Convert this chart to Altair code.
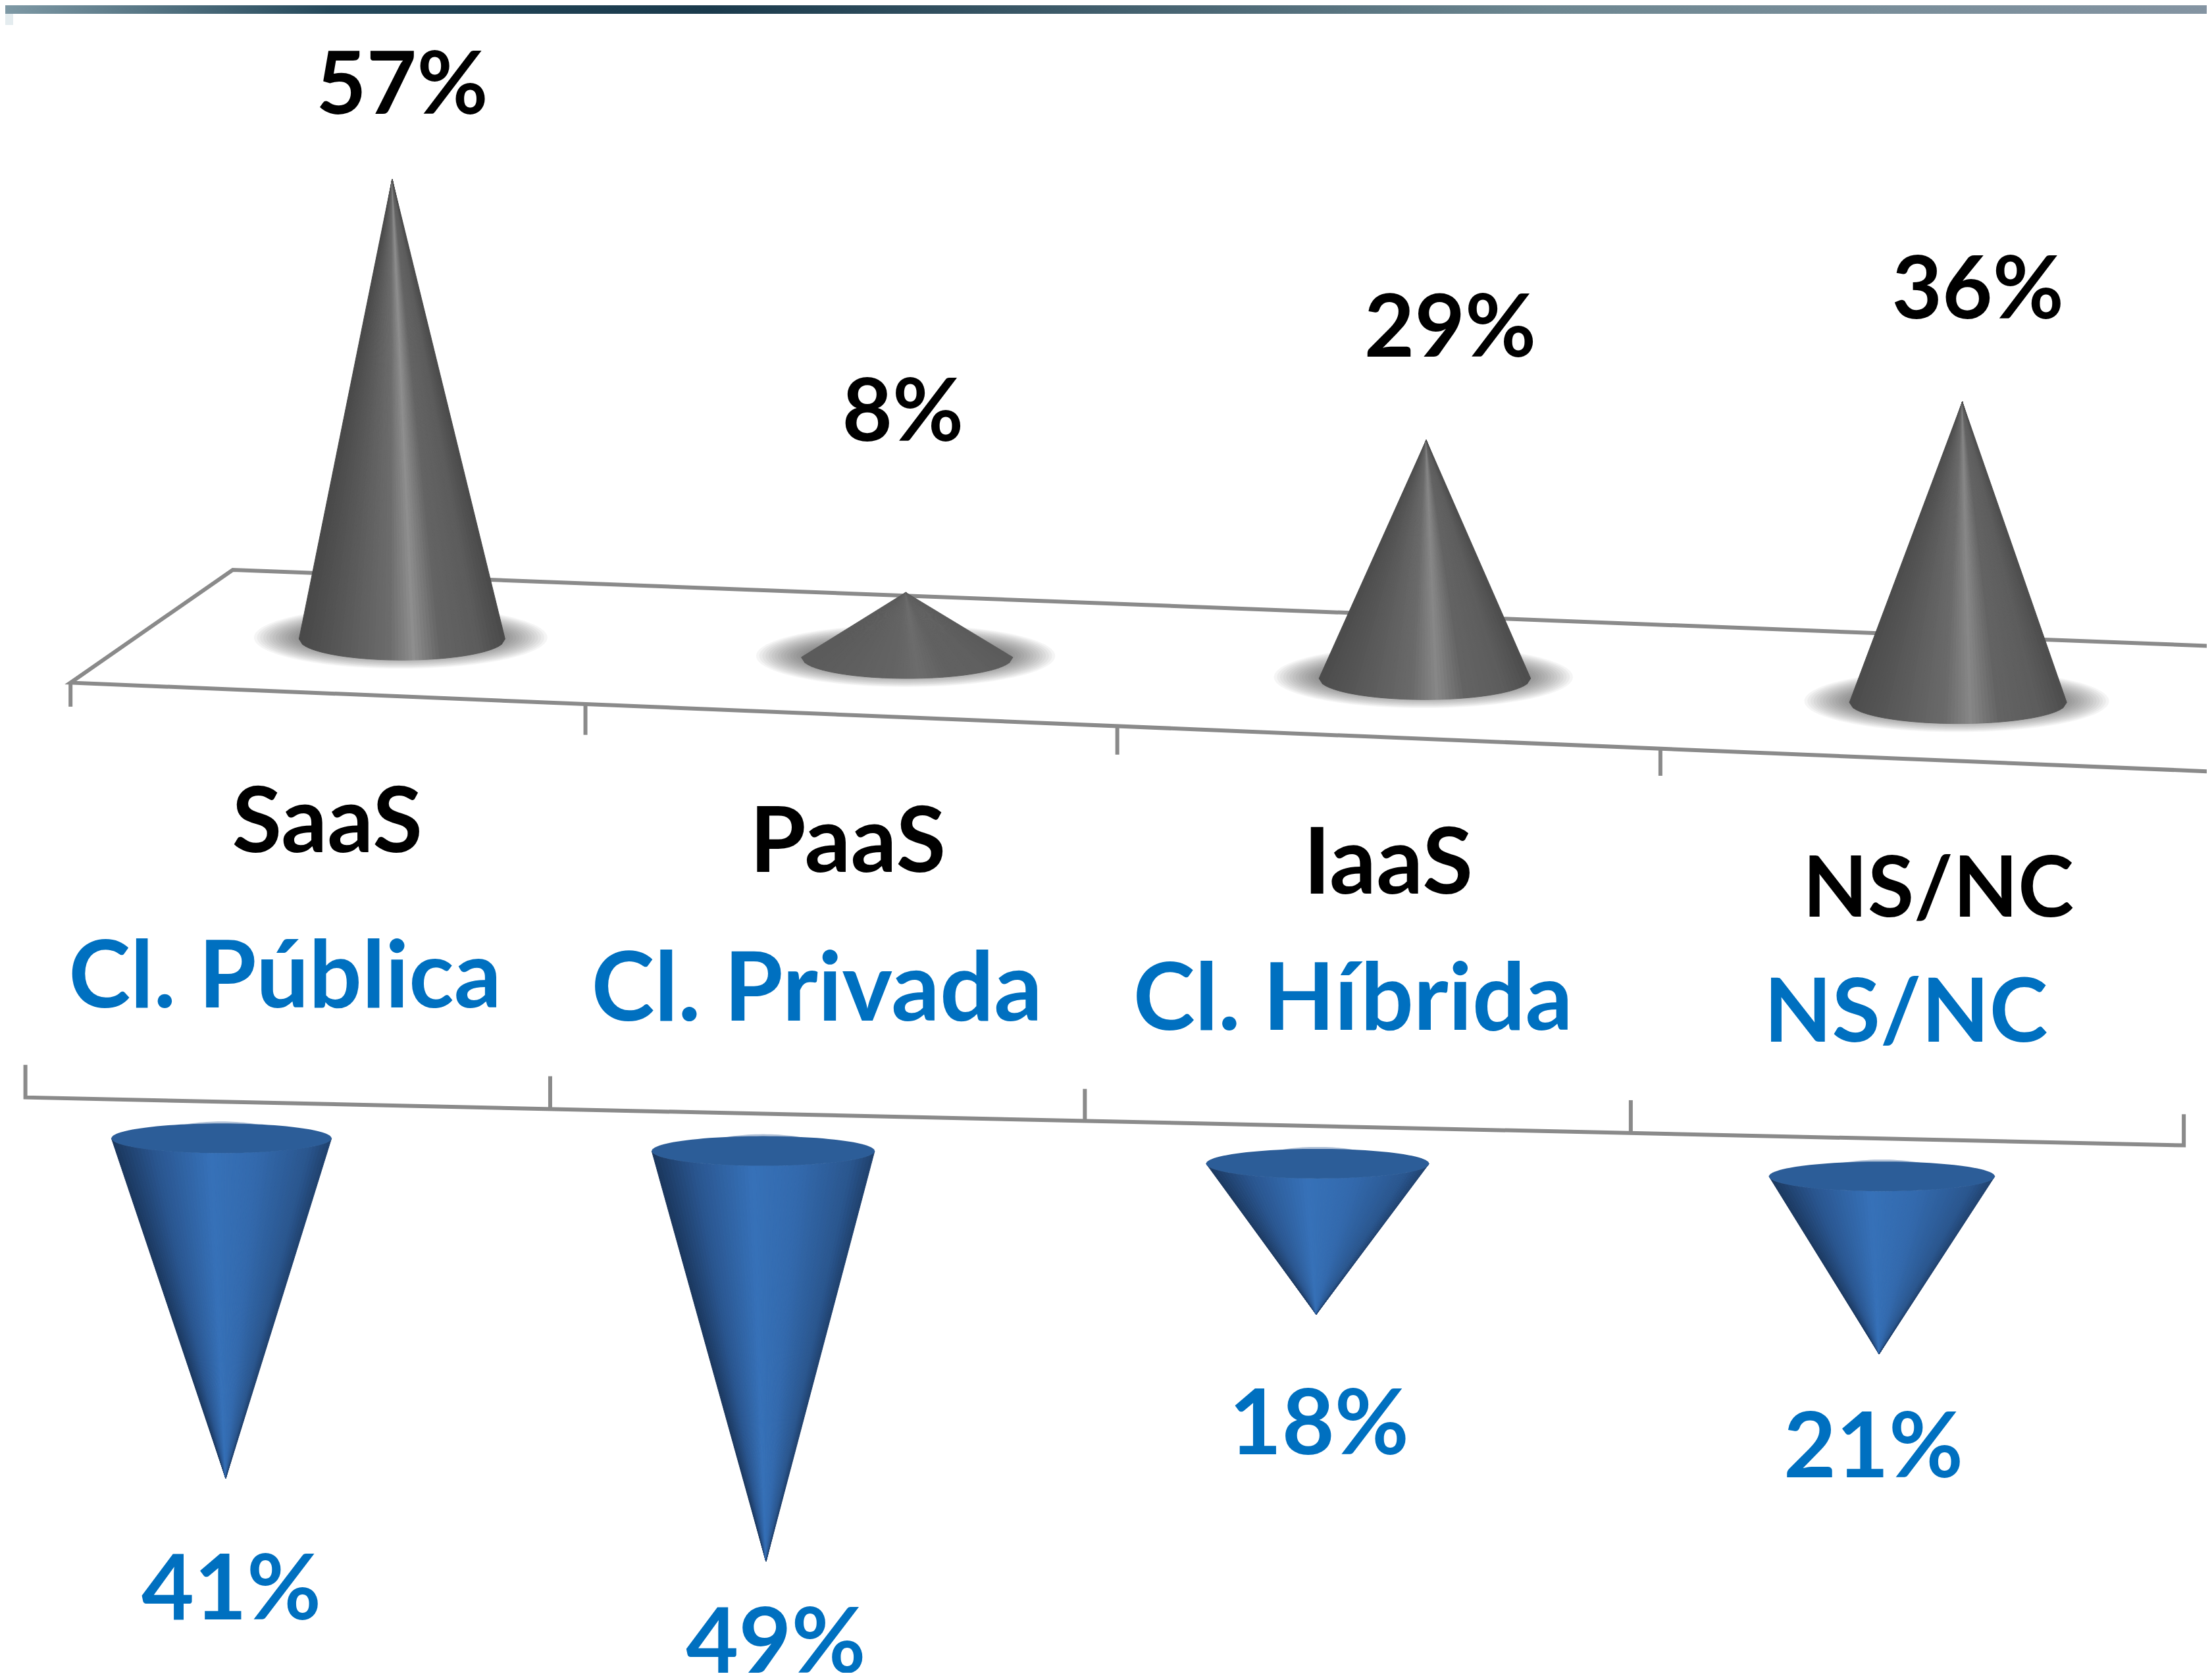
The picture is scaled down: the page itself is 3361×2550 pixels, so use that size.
import altair as alt
import numpy as np
import pandas as pd

# ---------- data ----------
service_models = ["SaaS", "PaaS", "IaaS", "NS/NC"]
service_values = [57, 8, 29, 36]
cloud_types = ["Cl. Pública", "Cl. Privada", "Cl. Híbrida", "NS/NC"]
cloud_values = [41, 49, 18, 21]

# ---------- layout (reference pixels, measured on the 1568 wide preview) ----------
S = 3361 / 1568
W, H = 3361, 2550
top_cx = [285, 643, 1010, 1388]
top_cy = [453, 466, 481, 498]
top_rx = [73, 75, 75, 77]
top_ry = 15
top_apex_dx = [-7, -1, 1, 3]
top_k = [5.72, 5.75, 5.83, 5.92]   # perspective grows to the right
bot_cx = [157, 541, 934, 1334]
bot_cy = [807, 816, 825, 834]
bot_rx = [78, 79, 79, 80]
bot_ry = 10.5
bot_apex_dx = [3, 2, -1, -2]
bot_k = [5.88, 5.94, 5.94, 6.0]
top_label_xy = [(232, 585), (601, 599), (984, 614), (1374, 632)]
bot_label_xy = [(202, 694), (579, 703), (959, 710), (1351, 720)]
top_pct_xy = [(285, 62), (640, 294), (1028, 234), (1402, 207)]
bot_pct_xy = [(164, 1129), (550, 1167), (935, 1012), (1328, 1028)]
top_label_size = [138, 138, 140, 128]
bot_label_size = [142, 145, 142, 134]

GRAY_U = [-1, -0.55, -0.12, 0.12, 0.38, 0.75, 1]
GRAY_C = [[0x48]*3, [0x5a]*3, [0x6c]*3, [0x8e]*3, [0x64]*3, [0x5c]*3, [0x4a]*3]
BLUE_U = [-1, -0.6, -0.1, 0.3, 0.8, 1]
BLUE_C = [(0x1a, 0x36, 0x5c), (0x2a, 0x56, 0x90), (0x36, 0x71, 0xb8),
          (0x33, 0x6a, 0xae), (0x2a, 0x56, 0x8e), (0x1f, 0x40, 0x6c)]


def shade(u, us, cs, strength=1.0):
    rgb = [np.interp(u, us, [c[i] for c in cs]) for i in range(3)]
    mean = [np.mean([c[i] for c in cs]) for i in range(3)]
    rgb = [m + (v - m) * strength for v, m in zip(rgb, mean)]
    return "#%02x%02x%02x" % tuple(int(round(v)) for v in rgb)


def tri_rows(gid, color, a, b, c):
    p = sorted([a, b, c], key=lambda q: q[0])
    (x0, y0), (x1, y1), (x2, y2) = p
    yi = y0 if x2 == x0 else y0 + (y2 - y0) * (x1 - x0) / (x2 - x0)
    return [
        dict(g=gid, c=color, x=x0, y=y0, y2=y0),
        dict(g=gid, c=color, x=x1, y=y1, y2=yi),
        dict(g=gid, c=color, x=x2, y=y2, y2=y2),
    ]


def cone_rows(name, cx, cy, rx, ry, ax, ay, us, cs, strength=1.0, n=60):
    rows = []
    edges = np.linspace(-1, 1, n + 1)
    for i in range(n):
        u0, u1 = edges[i], edges[i + 1]
        col = shade((u0 + u1) / 2, us, cs, strength)
        b = (cx + rx * u0, cy + ry * np.sqrt(max(0, 1 - u0 ** 2)))
        d = (cx + rx * u1, cy + ry * np.sqrt(max(0, 1 - u1 ** 2)))
        rows += tri_rows(f"{name}-{i}", col, (ax, ay), b, d)
    return rows


def ellipse_rows(gid, color, cx, cy, rx, ry, n=50):
    rows = []
    for t in np.linspace(np.pi, 0, n + 1):
        h = ry * np.sin(t)
        rows.append(dict(g=gid, c=color, x=cx + rx * np.cos(t), y=cy - h, y2=cy + h))
    return rows


xs = alt.Scale(domain=[8, W - 8], range=[0, W - 16], clamp=False)
ys = alt.Scale(domain=[H - 8, 8], clamp=False)
X = alt.X("x:Q", scale=xs, axis=None)
Y = alt.Y("y:Q", scale=ys, axis=None)
X2 = alt.X2("x2:Q")
Y2 = alt.Y2("y2:Q")


def polygons(rows, stroke=True, **mk):
    base = alt.Chart(pd.DataFrame(rows)).mark_area(interpolate="linear", **mk)
    enc = dict(x=X, y=Y, y2=Y2, detail="g:N",
               fill=alt.Fill("c:N", scale=None, legend=None))
    if stroke:
        enc["stroke"] = alt.Stroke("c:N", scale=None, legend=None)
    return base.encode(**enc)


def line_layer(segments, color="#8a8a8a", width=6):
    rows = []
    for j, seg in enumerate(segments):
        for k, (px, py) in enumerate(seg):
            rows.append(dict(g=j, k=k, x=px * S, y=py * S))
    return alt.Chart(pd.DataFrame(rows)).mark_line(
        color=color, strokeWidth=width, strokeCap="butt", strokeJoin="miter"
    ).encode(x=X, y=Y, detail="g:N", order="k:Q")


def text_layer(labels, xy, color, sizes):
    rows = [dict(t=t, x=p[0] * S, y=p[1] * S, s=s) for t, p, s in zip(labels, xy, sizes)]
    return alt.Chart(pd.DataFrame(rows)).mark_text(
        font="Lato", fontWeight="bold", color=color,
        align="center", baseline="middle"
    ).encode(x=X, y=Y, text="t:N", size=alt.Size("s:Q", scale=None, legend=None))


# ---------- top band ----------
band = alt.Chart(pd.DataFrame([dict(x=0, x2=W, y=0, y2=21)])).mark_rect(
    fill=alt.Gradient(gradient="linear", x1=0, x2=1, y1=0, y2=0, stops=[
        alt.GradientStop(offset=0, color="#7f9aa6"),
        alt.GradientStop(offset=0.15, color="#24485a"),
        alt.GradientStop(offset=0.32, color="#1a3a4c"),
        alt.GradientStop(offset=0.7, color="#6d8791"),
        alt.GradientStop(offset=1, color="#8494a2"),
    ])
).encode(x=X, x2=X2, y=Y, y2=Y2)
patch = alt.Chart(pd.DataFrame([dict(x=0, x2=20, y=21, y2=38)])).mark_rect(
    fill="#e4ecef").encode(x=X, x2=X2, y=Y, y2=Y2)

# ---------- floor and axes ----------
floor = line_layer([
    [(1568, 458), (165, 404), (50, 484), (1568, 547)],
    [(50, 484), (50, 501)],
    [(415, 499), (415, 521)],
    [(792, 515), (792, 535)],
    [(1177, 531), (1177, 550)],
])
axis_lines = line_layer([
    [(18, 755), (18, 778), (1548, 812), (1548, 790)],
    [(390, 763), (390, 786)],
    [(769, 772), (769, 794)],
    [(1156, 780), (1156, 802)],
])

# ---------- shadows ----------
shadow_rows = []
LEVELS = 16
for i in range(4):
    for lvl in range(LEVELS):
        shadow_rows += ellipse_rows(
            f"s{i}-{lvl}", "#4d4d4d",
            (top_cx[i] - 1) * S, (top_cy[i] - 1) * S,
            (top_rx[i] + 31 - lvl * 2.2) * S,
            (top_ry + 7 - lvl * 0.7) * S,
        )
shadows = polygons(shadow_rows, stroke=False, opacity=0.055)

# ---------- cones ----------
gray_rows, blue_rows, rim_rows, cap_rows = [], [], [], []
for i, v in enumerate(service_values):
    strength = 0.25 if v < 15 else (0.85 if v < 40 else 1.0)
    gray_rows += cone_rows(
        f"t{i}", top_cx[i] * S, top_cy[i] * S, top_rx[i] * S, top_ry * S,
        (top_cx[i] + top_apex_dx[i]) * S, (top_cy[i] - top_k[i] * v) * S,
        GRAY_U, GRAY_C, strength)
for i, v in enumerate(cloud_values):
    cx, cy = bot_cx[i] * S, bot_cy[i] * S
    blue_rows += cone_rows(
        f"b{i}", cx, cy, bot_rx[i] * S, bot_ry * S,
        (bot_cx[i] + bot_apex_dx[i]) * S, (bot_cy[i] + bot_k[i] * v) * S,
        BLUE_U, BLUE_C, 1.0)
    rim_rows += ellipse_rows(f"r{i}", "#b0c0d6", cx, cy - 3, bot_rx[i] * 0.55 * S, bot_ry * S)
    cap_rows += ellipse_rows(f"c{i}", "#2c5d98", cx, cy, bot_rx[i] * S, bot_ry * S)

gray = polygons(gray_rows, strokeWidth=1)
blue = polygons(blue_rows, strokeWidth=1)
rim = polygons(rim_rows, stroke=False)
cap = polygons(cap_rows, stroke=False)

# ---------- text ----------
chart = alt.layer(
    band, patch, floor, shadows, gray, axis_lines, rim, blue, cap,
    text_layer(service_models, top_label_xy, "#000000", top_label_size),
    text_layer(cloud_types, bot_label_xy, "#0070C0", bot_label_size),
    text_layer([f"{v}%" for v in service_values], top_pct_xy, "#000000", [132] * 4),
    text_layer([f"{v}%" for v in cloud_values], bot_pct_xy, "#0070C0", [138] * 4),
).properties(
    width=W - 16, height=H - 16, background="#ffffff",
    padding=0, autosize=alt.AutoSizeParams(type="none"),
).configure_view(stroke=None)

chart.save("out.html", embed_options={"renderer": "svg", "actions": False})
